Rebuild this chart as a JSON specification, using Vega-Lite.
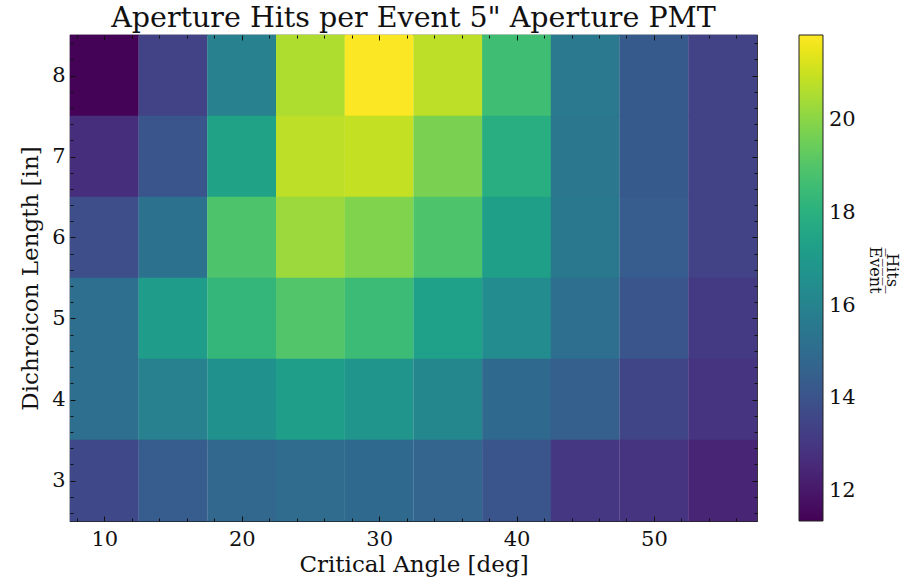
{
  "$schema": "https://vega.github.io/schema/vega-lite/v6.json",
  "autosize": {"type": "none"},
  "padding": {"left": 70, "top": 35, "right": 145, "bottom": 59},
  "width": 687,
  "height": 486,
  "background": "white",
  "config": {
    "font": "DejaVu Serif",
    "view": {"stroke": "#222", "strokeWidth": 1.2},
    "axis": {"domain": false, "grid": false, "ticks": true, "tickColor": "#111", "tickWidth": 1, "labelColor": "#111", "titleColor": "#111", "labelFont": "DejaVu Serif", "titleFont": "DejaVu Serif"},
    "legend": {"titleFontSize": 16, "titleFont": "DejaVu Serif", "titleFontWeight": "normal"}
  },
  "title": {"text": "Aperture Hits per Event 5\" Aperture PMT", "font": "DejaVu Serif", "fontSize": 28.5, "fontWeight": "normal", "color": "#111", "offset": 2, "anchor": "middle"},
  "data": {"values": [
    {"angle": 10, "length": 8, "hits": 11.4}, {"angle": 15, "length": 8, "hits": 13.4}, {"angle": 20, "length": 8, "hits": 15.9}, {"angle": 25, "length": 8, "hits": 20.6}, {"angle": 30, "length": 8, "hits": 21.8}, {"angle": 35, "length": 8, "hits": 20.8}, {"angle": 40, "length": 8, "hits": 18.6}, {"angle": 45, "length": 8, "hits": 15.6}, {"angle": 50, "length": 8, "hits": 14.3}, {"angle": 55, "length": 8, "hits": 13.4},
    {"angle": 10, "length": 7, "hits": 12.7}, {"angle": 15, "length": 7, "hits": 14.1}, {"angle": 20, "length": 7, "hits": 17.4}, {"angle": 25, "length": 7, "hits": 20.8}, {"angle": 30, "length": 7, "hits": 20.9}, {"angle": 35, "length": 7, "hits": 19.75}, {"angle": 40, "length": 7, "hits": 17.9}, {"angle": 45, "length": 7, "hits": 15.5}, {"angle": 50, "length": 7, "hits": 14.3}, {"angle": 55, "length": 7, "hits": 13.4},
    {"angle": 10, "length": 6, "hits": 13.8}, {"angle": 15, "length": 6, "hits": 15.3}, {"angle": 20, "length": 6, "hits": 18.9}, {"angle": 25, "length": 6, "hits": 20.3}, {"angle": 30, "length": 6, "hits": 19.85}, {"angle": 35, "length": 6, "hits": 18.9}, {"angle": 40, "length": 6, "hits": 17.25}, {"angle": 45, "length": 6, "hits": 15.55}, {"angle": 50, "length": 6, "hits": 14.4}, {"angle": 55, "length": 6, "hits": 13.4},
    {"angle": 10, "length": 5, "hits": 15.1}, {"angle": 15, "length": 5, "hits": 17.1}, {"angle": 20, "length": 5, "hits": 18.3}, {"angle": 25, "length": 5, "hits": 19.0}, {"angle": 30, "length": 5, "hits": 18.5}, {"angle": 35, "length": 5, "hits": 17.3}, {"angle": 40, "length": 5, "hits": 16.4}, {"angle": 45, "length": 5, "hits": 15.1}, {"angle": 50, "length": 5, "hits": 14.1}, {"angle": 55, "length": 5, "hits": 13.1},
    {"angle": 10, "length": 4, "hits": 15.1}, {"angle": 15, "length": 4, "hits": 15.9}, {"angle": 20, "length": 4, "hits": 16.6}, {"angle": 25, "length": 4, "hits": 17.2}, {"angle": 30, "length": 4, "hits": 16.8}, {"angle": 35, "length": 4, "hits": 16.2}, {"angle": 40, "length": 4, "hits": 14.9}, {"angle": 45, "length": 4, "hits": 14.5}, {"angle": 50, "length": 4, "hits": 13.5}, {"angle": 55, "length": 4, "hits": 12.9},
    {"angle": 10, "length": 3, "hits": 13.6}, {"angle": 15, "length": 3, "hits": 14.4}, {"angle": 20, "length": 3, "hits": 14.8}, {"angle": 25, "length": 3, "hits": 15.0}, {"angle": 30, "length": 3, "hits": 14.9}, {"angle": 35, "length": 3, "hits": 14.7}, {"angle": 40, "length": 3, "hits": 14.1}, {"angle": 45, "length": 3, "hits": 13.0}, {"angle": 50, "length": 3, "hits": 12.9}, {"angle": 55, "length": 3, "hits": 12.4}
  ]},
  "resolve": {"axis": {"x": "independent", "y": "independent"}},
  "layer": [
    {
      "mark": {"type": "rect", "width": 68.9, "height": 81.3},
      "encoding": {
        "x": {"field": "angle", "type": "quantitative", "scale": {"domain": [7.5, 57.5], "nice": false, "zero": false},
          "axis": {"orient": "bottom", "zindex": 3, "offset": -5, "values": [10, 20, 30, 40, 50], "tickSize": 5, "labelPadding": 7, "labelFontSize": 21, "title": "Critical Angle [deg]", "titleFontSize": 23, "titleFontWeight": "normal", "titlePadding": 4}},
        "y": {"field": "length", "type": "quantitative", "scale": {"domain": [2.5, 8.5], "nice": false, "zero": false},
          "axis": {"orient": "left", "zindex": 3, "offset": -5, "values": [3, 4, 5, 6, 7, 8], "tickSize": 5, "labelPadding": 5, "labelFontSize": 21, "title": "Dichroicon Length [in]", "titleFontSize": 23, "titleFontWeight": "normal", "titlePadding": 9}},
        "color": {"field": "hits", "type": "quantitative",
          "scale": {"scheme": "viridis", "domain": [11.35, 21.84], "nice": false, "zero": false},
          "legend": {"title": ["Hits", "E\u0305v\u0305e\u0305n\u0305t\u0305"], "values": [12, 14, 16, 18, 20], "gradientLength": 486, "gradientThickness": 24, "gradientStrokeColor": "#222", "gradientStrokeWidth": 1, "labelFontSize": 21, "labelColor": "#111", "labelFont": "DejaVu Serif", "labelOffset": 6, "offset": 41, "padding": 0, "titleOrient": "right", "titleAngle": 270, "titleFontSize": 16, "titleLineHeight": 17, "titleFontWeight": "normal", "titleFont": "DejaVu Serif", "titleAnchor": "middle", "titleColor": "#111", "titleAlign": "center", "titleBaseline": "bottom", "titlePadding": 28, "direction": "vertical"}}
      }
    },
    {
      "mark": {"type": "rect", "width": 68.9, "height": 81.3, "opacity": 0},
      "encoding": {
        "x": {"field": "angle", "type": "quantitative", "axis": {"orient": "bottom", "zindex": 3, "offset": -3, "values": [8, 12, 14, 16, 18, 22, 24, 26, 28, 32, 34, 36, 38, 42, 44, 46, 48, 52, 54, 56], "tickSize": 3, "labels": false, "title": null}},
        "y": {"field": "length", "type": "quantitative", "axis": {"orient": "left", "zindex": 3, "offset": -3, "values": [2.6, 2.8, 3.2, 3.4, 3.6, 3.8, 4.2, 4.4, 4.6, 4.8, 5.2, 5.4, 5.6, 5.8, 6.2, 6.4, 6.6, 6.8, 7.2, 7.4, 7.6, 7.8, 8.2, 8.4], "tickSize": 3, "labels": false, "title": null}}
      }
    },
    {
      "mark": {"type": "rect", "width": 68.9, "height": 81.3, "opacity": 0},
      "encoding": {
        "x": {"field": "angle", "type": "quantitative", "axis": {"orient": "top", "zindex": 3, "offset": -5, "values": [10, 20, 30, 40, 50], "tickSize": 5, "labels": false, "title": null}},
        "y": {"field": "length", "type": "quantitative", "axis": {"orient": "right", "zindex": 3, "offset": -5, "values": [3, 4, 5, 6, 7, 8], "tickSize": 5, "labels": false, "title": null}}
      }
    },
    {
      "mark": {"type": "rect", "width": 68.9, "height": 81.3, "opacity": 0},
      "encoding": {
        "x": {"field": "angle", "type": "quantitative", "axis": {"orient": "top", "zindex": 3, "offset": -3, "values": [8, 12, 14, 16, 18, 22, 24, 26, 28, 32, 34, 36, 38, 42, 44, 46, 48, 52, 54, 56], "tickSize": 3, "labels": false, "title": null}},
        "y": {"field": "length", "type": "quantitative", "axis": {"orient": "right", "zindex": 3, "offset": -3, "values": [2.6, 2.8, 3.2, 3.4, 3.6, 3.8, 4.2, 4.4, 4.6, 4.8, 5.2, 5.4, 5.6, 5.8, 6.2, 6.4, 6.6, 6.8, 7.2, 7.4, 7.6, 7.8, 8.2, 8.4], "tickSize": 3, "labels": false, "title": null}}
      }
    }
  ]
}
